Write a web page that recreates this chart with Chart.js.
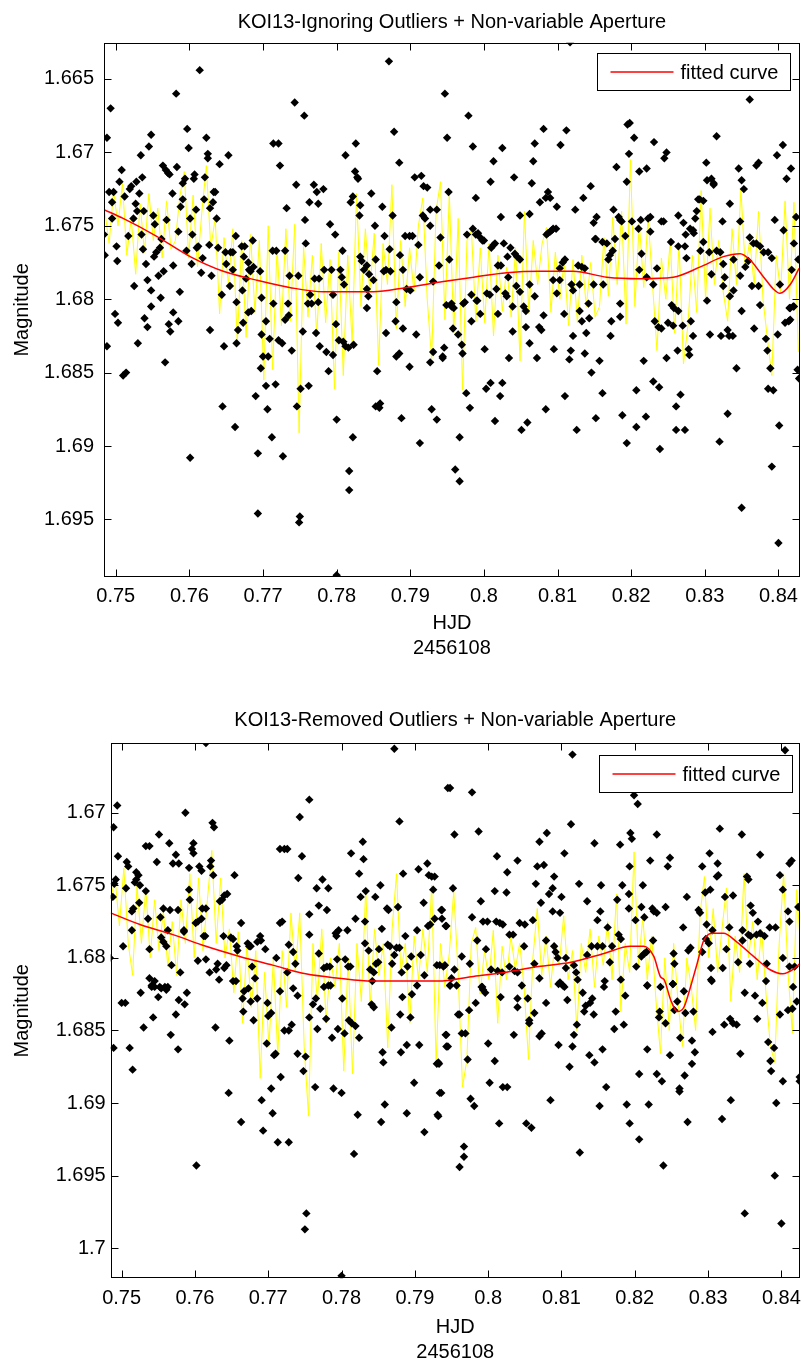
<!DOCTYPE html>
<html>
<head>
<meta charset="utf-8">
<script src="https://cdn.jsdelivr.net/npm/chart.js@4.4.1/dist/chart.umd.min.js"></script>
<style>
  body { margin: 0; background: #fff; width: 804px; height: 1363px; overflow: hidden; position: relative; }
  .panel { position: absolute; left: 0; width: 804px; }
  #topBox { top: 0; height: 670px; }
  #botBox { top: 676px; height: 690px; }
</style>
</head>
<body>
<div class="panel" id="topBox"><canvas id="topChart" width="804" height="670"></canvas></div>
<div class="panel" id="botBox"><canvas id="botChart" width="804" height="690"></canvas></div>
<script>
// axis ticks (HJD - 2456108)
const hjdTicks = [0.75, 0.76, 0.77, 0.78, 0.79, 0.80, 0.81, 0.82, 0.83, 0.84];
const hjdTickLabels = ['0.75', '0.76', '0.77', '0.78', '0.79', '0.8', '0.81', '0.82', '0.83', '0.84'];
const topMagTicks = [1.665, 1.670, 1.675, 1.680, 1.685, 1.690, 1.695];
const topMagTickLabels = ['1.665', '1.67', '1.675', '1.68', '1.685', '1.69', '1.695'];
const botMagTicks = [1.670, 1.675, 1.680, 1.685, 1.690, 1.695, 1.700];
const botMagTickLabels = ['1.67', '1.675', '1.68', '1.685', '1.69', '1.695', '1.7'];

// measured points, top panel (ignoring outliers): [HJD, magnitude]
const topPoints = [
  [0.7484,1.6756],[0.7485,1.6770],[0.7488,1.6690],[0.7493,1.6670],[0.7491,1.6727],[0.7495,1.6734],[0.7497,1.6727],[0.7495,1.6745],[0.7501,1.6764],[0.7502,1.6774],
  [0.7505,1.6720],[0.7508,1.6712],[0.7512,1.6730],[0.7517,1.6757],[0.7519,1.6725],[0.7521,1.6723],[0.7524,1.6745],[0.7525,1.6791],[0.7528,1.6720],[0.7527,1.6735],
  [0.7529,1.6740],[0.7532,1.6728],[0.7534,1.6702],[0.7535,1.6756],[0.7536,1.6717],[0.7538,1.6740],[0.7537,1.6766],[0.7541,1.6776],[0.7543,1.6787],[0.7545,1.6696],
  [0.7548,1.6688],[0.7548,1.6794],[0.7551,1.6743],[0.7552,1.6771],[0.7553,1.6749],[0.7555,1.6768],[0.7558,1.6784],[0.7560,1.6765],[0.7561,1.6799],[0.7562,1.6759],
  [0.7564,1.6709],[0.7565,1.6781],[0.7568,1.6712],[0.7569,1.6746],[0.7571,1.6714],[0.7573,1.6715],[0.7577,1.6728],[0.7578,1.6777],[0.7582,1.6660],[0.7583,1.6710],
  [0.7585,1.6754],[0.7587,1.6795],[0.7588,1.6737],[0.7591,1.6721],[0.7591,1.6732],[0.7594,1.6718],[0.7596,1.6767],[0.7597,1.6684],[0.7599,1.6697],[0.7601,1.6745],
  [0.7603,1.6776],[0.7604,1.6756],[0.7606,1.6718],[0.7607,1.6715],[0.7609,1.6739],[0.7610,1.6765],[0.7612,1.6764],[0.7614,1.6644],[0.7616,1.6782],[0.7618,1.6772],
  [0.7620,1.6732],[0.7621,1.6717],[0.7623,1.6690],[0.7625,1.6701],[0.7625,1.6704],[0.7627,1.6763],[0.7628,1.6738],[0.7630,1.6784],[0.7632,1.6734],[0.7633,1.6727],
  [0.7635,1.6727],[0.7637,1.6745],[0.7639,1.6765],[0.7641,1.6708],[0.7644,1.6797],[0.7649,1.6768],[0.7650,1.6776],[0.7653,1.6702],[0.7655,1.6791],[0.7656,1.6768],
  [0.7659,1.6768],[0.7659,1.6780],[0.7663,1.6757],[0.7664,1.6802],[0.7671,1.6764],[0.7672,1.6794],[0.7674,1.6771],[0.7675,1.6764],[0.7677,1.6786],[0.7680,1.6775],
  [0.7681,1.6780],[0.7683,1.6781],[0.7686,1.6760],[0.7687,1.6778],[0.7696,1.6781],[0.7698,1.6799],[0.7714,1.6694],[0.7721,1.6694],[0.7723,1.6709],[0.7713,1.6767],
  [0.7718,1.6767],[0.7730,1.6767],[0.7732,1.6738],[0.7736,1.6784],[0.7745,1.6722],[0.7743,1.6666],[0.7748,1.6784],[0.7756,1.6675],[0.7757,1.6746],[0.7758,1.6762],
  [0.7763,1.6734],[0.7764,1.6797],[0.7769,1.6722],[0.7770,1.6786],[0.7773,1.6727],[0.7775,1.6735],[0.7776,1.6786],[0.7782,1.6725],[0.7783,1.6780],[0.7791,1.6749],
  [0.7793,1.6780],[0.7795,1.6797],[0.7798,1.6756],[0.7805,1.6780],[0.7807,1.6785],[0.7808,1.6767],[0.7810,1.6790],[0.7812,1.6702],[0.7819,1.6734],[0.7822,1.6730],
  [0.7825,1.6713],[0.7826,1.6694],[0.7828,1.6717],[0.7829,1.6718],[0.7831,1.6743],[0.7832,1.6736],[0.7832,1.6771],[0.7834,1.6774],[0.7837,1.6780],[0.7841,1.6777],
  [0.7841,1.6793],[0.7843,1.6798],[0.7844,1.6783],[0.7847,1.6728],[0.7850,1.6787],[0.7852,1.6750],[0.7853,1.6773],[0.7862,1.6737],[0.7864,1.6781],[0.7865,1.6757],
  [0.7867,1.6780],[0.7871,1.6638],[0.7872,1.6766],[0.7873,1.6781],[0.7876,1.6743],[0.7878,1.6686],[0.7881,1.6802],[0.7885,1.6707],[0.7886,1.6770],[0.7890,1.6780],
  [0.7893,1.6757],[0.7895,1.6793],[0.7899,1.6757],[0.7900,1.6794],[0.7903,1.6757],[0.7906,1.6717],[0.7911,1.6763],[0.7913,1.6785],[0.7915,1.6716],[0.7917,1.6743],
  [0.7918,1.6723],[0.7920,1.6745],[0.7923,1.6724],[0.7927,1.6750],[0.7927,1.6739],[0.7931,1.6788],[0.7936,1.6739],[0.7939,1.6777],[0.7941,1.6758],[0.7947,1.6660],
  [0.7950,1.6690],[0.7952,1.6727],[0.7953,1.6773],
  [0.7979,1.6675],[0.7985,1.6696],[0.7989,1.6731],[0.8013,1.6706],[0.8009,1.6720],[0.8023,1.6744],[0.8025,1.6697],[0.8041,1.6717],[0.8049,1.6743],[0.8062,1.6742],
  [0.8065,1.6721],[0.8067,1.6706],[0.8069,1.6694],[0.8076,1.6734],[0.8081,1.6684],[0.8084,1.6731],[0.8087,1.6727],[0.8090,1.6731],[0.8099,1.6737],[0.8104,1.6695],
  [0.8112,1.6685],[0.8124,1.6739],[0.8135,1.6731],[0.8145,1.6723],[0.8149,1.6748],[0.8153,1.6744],[0.8151,1.6759],[0.8176,1.6739],[0.8180,1.6710],[0.8183,1.6744],
  [0.8185,1.6746],[0.8187,1.6747],[0.8194,1.6720],[0.8195,1.6681],[0.8198,1.6680],[0.8201,1.6747],[0.8204,1.6690],[0.8197,1.6701],[0.8211,1.6713],[0.8213,1.6746],
  [0.8221,1.6711],[0.8223,1.6745],[0.8226,1.6744],[0.8231,1.6693],[0.8241,1.6747],[0.8244,1.6747],[0.8245,1.6704],[0.8248,1.6700],[0.8264,1.6743],[0.8271,1.6748],
  [0.8284,1.6753],[0.8287,1.6745],[0.8289,1.6740],[0.8291,1.6732],[0.8293,1.6732],[0.8298,1.6733],[0.8302,1.6707],[0.8303,1.6719],[0.8309,1.6718],[0.8312,1.6721],
  [0.8312,1.6722],[0.8316,1.6689],[0.8324,1.6747],[0.8334,1.6735],[0.8346,1.6711],[0.8348,1.6747],[0.8350,1.6719],[0.8353,1.6725],[0.8361,1.6664],[0.8370,1.6709],
  [0.8373,1.6707],[0.8395,1.6746],[0.8398,1.6702],[0.8406,1.6695],[0.8411,1.6718],[0.8417,1.6711],[0.8424,1.6744],[0.8117,1.6625],
  [0.7977,1.6756],[0.7985,1.6752],[0.7989,1.6756],[0.7992,1.6755],[0.7995,1.6758],[0.7998,1.6760],[0.8000,1.6760],[0.8010,1.6765],[0.8013,1.6763],[0.8015,1.6762],
  [0.8027,1.6762],[0.8032,1.6771],[0.8036,1.6765],[0.8042,1.6769],[0.8045,1.6771],[0.8049,1.6773],[0.8019,1.6777],[0.8023,1.6777],[0.8033,1.6785],[0.8085,1.6756],
  [0.8087,1.6755],[0.8090,1.6754],[0.8092,1.6753],[0.8094,1.6752],[0.8098,1.6752],[0.8103,1.6779],[0.8107,1.6775],[0.8110,1.6773],[0.8128,1.6777],[0.8133,1.6778],
  [0.8137,1.6779],[0.8152,1.6759],[0.8161,1.6761],[0.8167,1.6762],[0.8169,1.6773],[0.8171,1.6770],[0.8175,1.6767],[0.8178,1.6759],[0.8192,1.6757],[0.8210,1.6752],
  [0.8211,1.6780],[0.8214,1.6769],[0.8226,1.6754],[0.8235,1.6779],[0.8221,1.6785],[0.8254,1.6761],[0.8264,1.6764],[0.8273,1.6764],[0.8275,1.6772],[0.8274,1.6756],
  [0.8280,1.6752],[0.8285,1.6755],[0.8298,1.6761],[0.8294,1.6767],[0.8306,1.6768],[0.8316,1.6767],[0.8321,1.6768],[0.8325,1.6776],[0.8327,1.6785],[0.8339,1.6773],
  [0.8355,1.6778],[0.8359,1.6774],[0.8361,1.6758],[0.8366,1.6762],[0.8370,1.6762],[0.8375,1.6764],[0.8380,1.6768],[0.8386,1.6768],[0.8391,1.6772],[0.8407,1.6753],
  [0.8418,1.6780],[0.8421,1.6762],[0.8427,1.6773],
  [0.7949,1.6804],[0.7956,1.6805],[0.7972,1.6803],[0.7983,1.6797],[0.7990,1.6801],[0.8004,1.6796],[0.8008,1.6797],[0.8017,1.6793],[0.8029,1.6796],[0.8031,1.6798],
  [0.8044,1.6791],[0.8049,1.6795],[0.8062,1.6790],[0.8069,1.6798],[0.8099,1.6796],[0.8094,1.6787],[0.8103,1.6787],[0.8119,1.6790],[0.8121,1.6794],[0.8130,1.6790],
  [0.8142,1.6803],[0.8149,1.6790],[0.8162,1.6790],[0.8185,1.6803],[0.8230,1.6790],[0.8255,1.6804],[0.8303,1.6801],[0.8309,1.6783],[0.8325,1.6791],[0.8334,1.6798],
  [0.8339,1.6794],[0.8348,1.6784],[0.8364,1.6791],[0.8373,1.6791],[0.8375,1.6804],[0.8402,1.6790],[0.8416,1.6806],[0.8420,1.6805],
  [0.7488,1.6832],[0.7499,1.6810],[0.7503,1.6816],[0.7510,1.6852],[0.7514,1.6850],[0.7530,1.6830],[0.7539,1.6813],[0.7543,1.6819],[0.7548,1.6805],[0.7567,1.6843],
  [0.7572,1.6817],[0.7574,1.6822],[0.7578,1.6809],[0.7585,1.6815],[0.7601,1.6908],[0.7628,1.6821],[0.7645,1.6873],[0.7647,1.6832],[0.7662,1.6887],[0.7664,1.6830],
  [0.7666,1.6821],[0.7673,1.6816],[0.7680,1.6809],[0.7684,1.6808],[0.7690,1.6866],[0.7693,1.6905],[0.7693,1.6946],[0.7697,1.6847],[0.7698,1.6824],[0.7700,1.6839],
  [0.7704,1.6859],[0.7704,1.6815],[0.7706,1.6875],[0.7707,1.6839],[0.7709,1.6827],[0.7712,1.6894],[0.7714,1.6803],[0.7717,1.6858],[0.7721,1.6828],[0.7726,1.6830],
  [0.7727,1.6907],[0.7730,1.6814],[0.7734,1.6803],[0.7735,1.6811],[0.7739,1.6835],[0.7746,1.6873],[0.7749,1.6952],[0.7750,1.6948],[0.7751,1.6861],[0.7754,1.6822],
  [0.7761,1.6803],[0.7762,1.6859],[0.7766,1.6803],[0.7772,1.6823],[0.7775,1.6802],[0.7777,1.6832],[0.7786,1.6836],[0.7789,1.6849],[0.7795,1.6838],[0.7799,1.6817],
  [0.7800,1.6882],[0.7803,1.6828],[0.7809,1.6829],[0.7812,1.6832],[0.7816,1.6833],[0.7817,1.6917],[0.7817,1.6930],[0.7822,1.6894],[0.7823,1.6831],[0.7841,1.6806],
  [0.7853,1.6873],[0.7855,1.6849],[0.7858,1.6874],[0.7859,1.6871],[0.7867,1.6823],[0.7880,1.6815],[0.7881,1.6839],[0.7885,1.6837],[0.7888,1.6881],[0.7890,1.6820],
  [0.7899,1.6846],[0.7908,1.6824],[0.7913,1.6898],[0.7927,1.6843],[0.7931,1.6836],[0.7929,1.6875],[0.7936,1.6882],[0.7944,1.6840],[0.7946,1.6833],[0.7800,1.6988],
  [0.7944,1.6839],[0.7956,1.6803],[0.7959,1.6806],[0.7958,1.6820],[0.7965,1.6824],[0.7970,1.6831],[0.7971,1.6837],[0.7974,1.6802],[0.7976,1.6864],
  [0.7981,1.6874],[0.7967,1.6894],[0.7961,1.6916],[0.7967,1.6924],[0.7983,1.6815],[0.7991,1.6801],[0.7995,1.6810],[0.8001,1.6834],[0.8003,1.6861],[0.8009,1.6857],
  [0.8015,1.6883],[0.8019,1.6810],[0.8022,1.6866],[0.8025,1.6857],[0.8034,1.6840],[0.8039,1.6805],[0.8039,1.6822],[0.8051,1.6889],[0.8054,1.6805],[0.8057,1.6808],
  [0.8057,1.6819],[0.8059,1.6884],[0.8062,1.6830],[0.8072,1.6840],[0.8075,1.6819],[0.8078,1.6821],[0.8081,1.6811],[0.8084,1.6875],[0.8095,1.6834],[0.8109,1.6810],
  [0.8110,1.6866],[0.8116,1.6841],[0.8118,1.6835],[0.8121,1.6825],[0.8126,1.6889],[0.8130,1.6808],[0.8133,1.6815],[0.8137,1.6837],[0.8139,1.6823],[0.8143,1.6813],
  [0.8146,1.6850],[0.8152,1.6881],[0.8157,1.6842],[0.8161,1.6864],[0.8172,1.6825],[0.8173,1.6815],[0.8185,1.6812],[0.8188,1.6879],[0.8194,1.6898],[0.8207,1.6862],
  [0.8207,1.6887],[0.8217,1.6842],[0.8220,1.6880],[0.8230,1.6856],[0.8232,1.6815],[0.8237,1.6819],[0.8238,1.6860],[0.8239,1.6902],[0.8241,1.6820],[0.8248,1.6840],
  [0.8250,1.6816],[0.8257,1.6818],[0.8258,1.6806],[0.8261,1.6873],[0.8261,1.6889],[0.8263,1.6835],[0.8264,1.6808],[0.8267,1.6865],[0.8270,1.6818],[0.8273,1.6889],
  [0.8278,1.6834],[0.8279,1.6838],[0.8281,1.6815],[0.8284,1.6825],[0.8307,1.6824],[0.8320,1.6897],[0.8322,1.6825],[0.8331,1.6878],[0.8331,1.6821],[0.8333,1.6825],
  [0.8338,1.6825],[0.8343,1.6847],[0.8350,1.6808],[0.8350,1.6942],[0.8367,1.6820],[0.8383,1.6827],[0.8385,1.6835],[0.8389,1.6847],[0.8386,1.6861],[0.8393,1.6862],
  [0.8391,1.6914],[0.8399,1.6824],[0.8401,1.6886],[0.8400,1.6966],[0.8409,1.6816],[0.8414,1.6815],[0.8416,1.6814],[0.8415,1.6806],[0.8421,1.6805],[0.8426,1.6848],
  [0.8428,1.6854]
];

// measured points, bottom panel (removed outliers): [HJD, magnitude]
const botPoints = [
  [0.7615,1.6652],[0.7872,1.6656],[0.7945,1.6683],[0.7494,1.6695],[0.7489,1.6710],[0.7587,1.6700],[0.7756,1.6691],[0.7743,1.6703],[0.7879,1.6706],[0.7624,1.6707],
  [0.7626,1.6710],[0.7551,1.6715],[0.7829,1.6720],[0.7538,1.6723],[0.7533,1.6723],[0.7565,1.6721],[0.7716,1.6725],[0.7722,1.6725],[0.7726,1.6725],[0.7598,1.6721],
  [0.7596,1.6725],[0.7598,1.6728],[0.7495,1.6730],[0.7548,1.6734],[0.7574,1.6729],[0.7570,1.6735],[0.7578,1.6735],[0.7592,1.6738],[0.7606,1.6737],[0.7609,1.6740],
  [0.7622,1.6733],[0.7621,1.6737],[0.7625,1.6743],[0.7654,1.6743],[0.7507,1.6734],[0.7509,1.6737],[0.7520,1.6741],[0.7523,1.6743],[0.7506,1.6752],[0.7518,1.6748],
  [0.7520,1.6746],[0.7525,1.6750],[0.7533,1.6754],[0.7492,1.6746],[0.7490,1.6749],[0.7488,1.6758],[0.7741,1.6745],[0.7746,1.6730],[0.7766,1.6752],[0.7774,1.6746],
  [0.7782,1.6752],[0.7813,1.6728],[0.7824,1.6742],[0.7830,1.6732],[0.7833,1.6754],[0.7826,1.6758],[0.7846,1.6758],[0.7853,1.6750],[0.7884,1.6742],[0.7905,1.6739],
  [0.7917,1.6735],[0.7919,1.6743],[0.7923,1.6744],[0.7927,1.6744],[0.7925,1.6753],[0.7644,1.6756],[0.7640,1.6757],[0.7637,1.6760],[0.7634,1.6761],[0.7592,1.6753],
  [0.7593,1.6760],[0.7524,1.6762],[0.7516,1.6766],[0.7514,1.6768],[0.7585,1.6781],[0.7557,1.6766],[0.7566,1.6767],[0.7577,1.6767],[0.7536,1.6773],[0.7553,1.6772],
  [0.7609,1.6773],[0.7604,1.6775],[0.7601,1.6776],[0.7610,1.6766],[0.7615,1.6766],[0.7756,1.6770],[0.7769,1.6764],[0.7780,1.6767],[0.7719,1.6775],[0.7819,1.6773],
  [0.7832,1.6775],[0.7862,1.6766],[0.7864,1.6767],[0.7877,1.6765],[0.7912,1.6762],[0.7918,1.6778],[0.7927,1.6773],[0.7937,1.6767],[0.7943,1.6778],
  [0.7484,1.6800],[0.7502,1.6792],[0.7514,1.6781],[0.7538,1.6794],[0.7554,1.6786],[0.7557,1.6789],[0.7561,1.6792],[0.7563,1.6781],[0.7568,1.6805],[0.7580,1.6810],
  [0.7585,1.6782],[0.7604,1.6802],[0.7612,1.6785],[0.7614,1.6785],[0.7615,1.6801],[0.7631,1.6804],[0.7620,1.6810],[0.7629,1.6808],[0.7639,1.6785],[0.7640,1.6807],
  [0.7643,1.6805],[0.7649,1.6786],[0.7652,1.6787],[0.7657,1.6792],[0.7658,1.6795],[0.7656,1.6816],[0.7663,1.6776],[0.7672,1.6790],[0.7674,1.6792],[0.7678,1.6806],
  [0.7682,1.6814],[0.7676,1.6792],[0.7685,1.6789],[0.7689,1.6785],[0.7690,1.6788],[0.7696,1.6794],[0.7711,1.6800],[0.7716,1.6776],[0.7726,1.6810],[0.7728,1.6791],
  [0.7734,1.6796],[0.7737,1.6804],[0.7756,1.6784],[0.7769,1.6797],[0.7776,1.6807],[0.7780,1.6806],[0.7784,1.6806],[0.7793,1.6785],[0.7792,1.6783],[0.7796,1.6781],
  [0.7794,1.6801],[0.7808,1.6781],[0.7805,1.6801],[0.7809,1.6806],[0.7812,1.6806],[0.7832,1.6790],[0.7837,1.6795],[0.7839,1.6808],[0.7842,1.6816],[0.7844,1.6810],
  [0.7847,1.6804],[0.7850,1.6803],[0.7851,1.6794],[0.7855,1.6780],[0.7863,1.6791],[0.7866,1.6792],[0.7869,1.6804],[0.7872,1.6798],[0.7875,1.6793],[0.7879,1.6793],
  [0.7882,1.6810],[0.7887,1.6785],[0.7890,1.6806],[0.7895,1.6799],[0.7903,1.6781],[0.7908,1.6798],[0.7913,1.6812],[0.7921,1.6777],[0.7930,1.6805],[0.7934,1.6805],
  [0.7941,1.6805],[0.7538,1.6814],[0.7541,1.6819],[0.7545,1.6820],[0.7552,1.6820],[0.7559,1.6820],[0.7563,1.6820],
  [0.7500,1.6831],[0.7505,1.6831],[0.7526,1.6824],[0.7541,1.6820],[0.7545,1.6816],[0.7550,1.6827],[0.7554,1.6821],[0.7561,1.6822],[0.7578,1.6829],[0.7586,1.6832],
  [0.7589,1.6824],[0.7543,1.6841],[0.7530,1.6848],[0.7489,1.6862],[0.7511,1.6862],[0.7515,1.6877],[0.7567,1.6853],[0.7574,1.6839],[0.7577,1.6863],[0.7602,1.6943],
  [0.7628,1.6848],[0.7633,1.6815],[0.7647,1.6857],[0.7646,1.6893],[0.7652,1.6816],[0.7663,1.6913],[0.7665,1.6828],[0.7666,1.6837],[0.7667,1.6823],[0.7673,1.6821],
  [0.7676,1.6830],[0.7680,1.6843],[0.7685,1.6828],[0.7691,1.6898],[0.7693,1.6919],[0.7698,1.6859],[0.7699,1.6831],[0.7700,1.6840],[0.7704,1.6838],[0.7704,1.6890],
  [0.7706,1.6907],[0.7708,1.6867],[0.7710,1.6866],[0.7713,1.6927],[0.7716,1.6823],[0.7717,1.6882],[0.7722,1.6850],[0.7728,1.6850],[0.7728,1.6927],[0.7732,1.6846],
  [0.7734,1.6821],[0.7740,1.6826],[0.7740,1.6866],[0.7748,1.6878],[0.7750,1.6987],[0.7751,1.6868],[0.7752,1.6976],[0.7756,1.6841],[0.7761,1.6832],[0.7764,1.6889],
  [0.7765,1.6828],[0.7767,1.6849],[0.7771,1.6835],[0.7776,1.6820],[0.7779,1.6842],[0.7782,1.6819],[0.7785,1.6819],[0.7787,1.6855],[0.7789,1.6890],[0.7795,1.6849],
  [0.7800,1.6893],[0.7801,1.6828],[0.7804,1.6852],[0.7810,1.6843],[0.7814,1.6845],[0.7817,1.6935],[0.7819,1.6847],[0.7822,1.6908],[0.7824,1.6855],[0.7841,1.6832],
  [0.7844,1.6834],[0.7854,1.6913],[0.7856,1.6865],[0.7857,1.6872],[0.7859,1.6901],[0.7868,1.6848],[0.7880,1.6839],[0.7881,1.6865],[0.7883,1.6827],[0.7889,1.6860],
  [0.7889,1.6907],[0.7894,1.6841],[0.7896,1.6825],[0.7899,1.6886],[0.7903,1.6819],[0.7906,1.6860],[0.7913,1.6920],[0.7930,1.6873],[0.7933,1.6873],[0.7931,1.6908],
  [0.7934,1.6893],[0.7942,1.6853],[0.7943,1.6861],[0.7800,1.7019],
  [0.7948,1.6683],[0.7978,1.6686],[0.8115,1.6660],[0.8199,1.6688],[0.8204,1.6694],[0.8405,1.6657],[0.7954,1.6715],[0.7987,1.6713],[0.8113,1.6708],[0.8070,1.6720],
  [0.8080,1.6714],[0.8104,1.6728],[0.8145,1.6721],[0.8180,1.6722],[0.8194,1.6714],[0.8196,1.6718],[0.8230,1.6715],[0.8316,1.6711],[0.8346,1.6715],[0.8012,1.6730],
  [0.8040,1.6733],[0.8026,1.6741],[0.8067,1.6737],[0.8076,1.6736],[0.8090,1.6744],[0.8065,1.6749],[0.8083,1.6756],[0.8088,1.6752],[0.8100,1.6758],[0.8124,1.6749],
  [0.8154,1.6750],[0.8183,1.6750],[0.8192,1.6756],[0.8193,1.6737],[0.8211,1.6750],[0.8221,1.6733],[0.8248,1.6731],[0.8245,1.6737],[0.8302,1.6728],[0.8313,1.6735],
  [0.8314,1.6743],[0.8292,1.6737],[0.8303,1.6753],[0.8312,1.6744],[0.8353,1.6744],[0.8355,1.6746],[0.8371,1.6729],[0.8398,1.6743],[0.8411,1.6735],[0.8414,1.6733],
  [0.8402,1.6753],[0.7952,1.6752],[0.7990,1.6761],[0.8009,1.6754],[0.8025,1.6755],[0.7936,1.6767],[0.7937,1.6773],[0.7942,1.6778],[0.7978,1.6772],[0.7993,1.6775],
  [0.7999,1.6775],[0.8011,1.6775],[0.8016,1.6776],[0.8020,1.6777],[0.8029,1.6784],[0.8034,1.6784],[0.8043,1.6776],[0.8050,1.6777],[0.8061,1.6774],[0.8072,1.6762],
  [0.8088,1.6768],[0.8098,1.6769],[0.8135,1.6761],[0.8153,1.6768],[0.8149,1.6774],[0.8163,1.6779],[0.8176,1.6760],[0.8192,1.6766],[0.8201,1.6774],[0.8209,1.6765],
  [0.8213,1.6772],[0.8224,1.6766],[0.8226,1.6768],[0.8230,1.6769],[0.8242,1.6765],[0.8266,1.6779],[0.8271,1.6758],[0.8287,1.6767],[0.8289,1.6769],[0.8296,1.6755],
  [0.8298,1.6777],[0.8306,1.6781],[0.8323,1.6758],[0.8329,1.6779],[0.8334,1.6757],[0.8347,1.6781],[0.8358,1.6764],[0.8361,1.6769],[0.8368,1.6775],[0.8358,1.6785],
  [0.8355,1.6784],[0.8366,1.6784],[0.8371,1.6783],[0.8377,1.6785],[0.8384,1.6779],[0.8392,1.6779],[0.8409,1.6768],[0.8411,1.6775],[0.8423,1.6765],
  [0.7985,1.6788],[0.7997,1.6794],[0.7964,1.6799],[0.7975,1.6804],[0.7939,1.6806],[0.7950,1.6814],[0.7954,1.6808],[0.7948,1.6819],[0.7992,1.6820],[0.8004,1.6808],
  [0.8013,1.6809],[0.8019,1.6810],[0.8029,1.6806],[0.8036,1.6809],[0.8040,1.6810],[0.8049,1.6792],[0.8063,1.6804],[0.8070,1.6814],[0.8079,1.6788],[0.8090,1.6792],
  [0.8092,1.6796],[0.8095,1.6800],[0.8096,1.6818],[0.8102,1.6819],[0.8106,1.6800],[0.8106,1.6807],[0.8117,1.6805],[0.8120,1.6810],[0.8122,1.6815],[0.8135,1.6798],
  [0.8141,1.6792],[0.8149,1.6792],[0.8156,1.6792],[0.8159,1.6816],[0.8166,1.6803],[0.8169,1.6792],[0.8178,1.6784],[0.8181,1.6787],[0.8181,1.6815],[0.8202,1.6806],
  [0.8209,1.6799],[0.8213,1.6797],[0.8216,1.6796],[0.8217,1.6819],[0.8225,1.6788],[0.8253,1.6797],[0.8254,1.6804],[0.8252,1.6818],[0.8273,1.6795],[0.8276,1.6793],
  [0.8292,1.6796],[0.8297,1.6787],[0.8301,1.6790],[0.8304,1.6807],[0.8304,1.6815],[0.8320,1.6807],[0.8325,1.6794],[0.8341,1.6803],[0.8347,1.6788],[0.8357,1.6804],
  [0.8380,1.6804],[0.8402,1.6800],[0.8411,1.6806],[0.8418,1.6806],
  [0.7932,1.6872],[0.7936,1.6893],[0.7932,1.6909],[0.7948,1.6819],[0.7957,1.6819],[0.7943,1.6853],[0.7945,1.6861],[0.7959,1.6839],[0.7961,1.6839],[0.7964,1.6852],
  [0.7969,1.6852],[0.7972,1.6870],[0.7974,1.6836],[0.7976,1.6897],[0.7981,1.6902],[0.7983,1.6831],[0.7991,1.6820],[0.7993,1.6822],[0.7996,1.6824],[0.8000,1.6859],
  [0.8002,1.6886],[0.8009,1.6871],[0.8015,1.6914],[0.8017,1.6827],[0.8020,1.6889],[0.8026,1.6889],[0.8035,1.6853],[0.8040,1.6828],[0.8040,1.6834],[0.8046,1.6819],
  [0.8052,1.6914],[0.8054,1.6828],[0.8056,1.6843],[0.8056,1.6845],[0.8059,1.6917],[0.8063,1.6838],[0.8070,1.6854],[0.8073,1.6852],[0.8079,1.6831],[0.8085,1.6898],
  [0.8096,1.6860],[0.8098,1.6817],[0.8104,1.6820],[0.8108,1.6829],[0.8111,1.6875],[0.8115,1.6861],[0.8117,1.6853],[0.8121,1.6846],[0.8125,1.6934],[0.8129,1.6824],
  [0.8131,1.6837],[0.8133,1.6833],[0.8138,1.6867],[0.8139,1.6831],[0.8142,1.6828],[0.8144,1.6839],[0.8145,1.6872],[0.8152,1.6902],[0.8156,1.6863],[0.8158,1.6820],
  [0.8161,1.6889],[0.8172,1.6849],[0.8174,1.6837],[0.8185,1.6846],[0.8187,1.6826],[0.8189,1.6901],[0.8193,1.6914],[0.8206,1.6880],[0.8206,1.6925],[0.8217,1.6819],
  [0.8217,1.6863],[0.8219,1.6901],[0.8230,1.6880],[0.8233,1.6841],[0.8234,1.6837],[0.8235,1.6820],[0.8237,1.6885],[0.8239,1.6943],[0.8242,1.6845],[0.8248,1.6867],
  [0.8252,1.6818],[0.8254,1.6836],[0.8258,1.6830],[0.8261,1.6890],[0.8261,1.6892],[0.8262,1.6855],[0.8267,1.6823],[0.8268,1.6881],[0.8269,1.6838],[0.8272,1.6913],
  [0.8278,1.6857],[0.8278,1.6873],[0.8280,1.6837],[0.8282,1.6865],[0.8305,1.6816],[0.8306,1.6851],[0.8319,1.6911],[0.8322,1.6846],[0.8330,1.6842],[0.8331,1.6898],
  [0.8334,1.6845],[0.8339,1.6846],[0.8344,1.6866],[0.8350,1.6824],[0.8350,1.6976],[0.8364,1.6826],[0.8367,1.6842],[0.8374,1.6831],[0.8379,1.6816],[0.8382,1.6858],
  [0.8385,1.6871],[0.8386,1.6878],[0.8390,1.6862],[0.8391,1.6950],[0.8393,1.6900],[0.8398,1.6839],[0.8400,1.6983],[0.8402,1.6885],[0.8409,1.6836],[0.8415,1.6835],
  [0.8416,1.6820],[0.8421,1.6830],[0.8425,1.6882],[0.8425,1.6885],[0.7967,1.6930],[0.7967,1.6937],[0.7961,1.6944]
];

// yellow comparison trace, same sampling in both panels
const yellowHJD = [
  0.7485,0.7491,0.7497,0.7503,0.7509,0.7515,0.7521,0.7527,0.7533,0.7539,0.7545,0.7551,0.7557,0.7563,0.7569,0.7575,
  0.7581,0.7587,0.7593,0.7599,0.7605,0.7611,0.7617,0.7623,0.7629,0.7635,0.7641,0.7647,0.7653,0.7659,0.7665,0.7671,
  0.7677,0.7683,0.7689,0.7695,0.7701,0.7707,0.7713,0.7719,0.7725,0.7731,0.7737,0.7743,0.7749,0.7755,0.7761,0.7767,
  0.7773,0.7779,0.7785,0.7791,0.7797,0.7803,0.7809,0.7815,0.7821,0.7827,0.7833,0.7839,0.7845,0.7851,0.7857,0.7863,
  0.7869,0.7875,0.7881,0.7887,0.7893,0.7899,0.7905,0.7911,0.7917,0.7923,0.7929,0.7935,0.7941,0.7947,0.7953,0.7959,
  0.7965,0.7971,0.7977,0.7983,0.7989,0.7995,0.8001,0.8007,0.8013,0.8019,0.8025,0.8031,0.8037,0.8043,0.8049,0.8055,
  0.8061,0.8067,0.8073,0.8079,0.8085,0.8091,0.8097,0.8103,0.8109,0.8115,0.8121,0.8127,0.8133,0.8139,0.8145,0.8151,
  0.8157,0.8163,0.8169,0.8175,0.8181,0.8187,0.8193,0.8199,0.8205,0.8211,0.8217,0.8223,0.8229,0.8235,0.8241,0.8247,
  0.8253,0.8259,0.8265,0.8271,0.8277,0.8283,0.8289,0.8295,0.8301,0.8307,0.8313,0.8319,0.8325,0.8331,0.8337,0.8343,
  0.8349,0.8355,0.8361,0.8367,0.8373,0.8379,0.8385,0.8391,0.8397,0.8403,0.8409,0.8415,0.8421,0.8427
];
const topYellowMag = [
  1.6740,1.6762,1.6726,1.6750,1.6721,1.6770,1.6745,1.6783,1.6735,1.6768,1.6728,1.6760,1.6738,1.6772,1.6733,1.6766,
  1.6760,1.6730,1.6713,1.6772,1.6729,1.6778,1.6740,1.6709,1.6765,1.6745,
  1.6810,1.6758,1.6790,1.6752,1.6830,1.6760,1.6826,1.6756,1.6809,1.6760,1.6855,1.6750,1.6848,1.6765,1.6818,1.6752,1.6815,1.6749,1.6891,1.6764,
  1.6812,1.6770,1.6825,1.6762,1.6816,1.6773,1.6861,1.6768,1.6852,1.6770,1.6830,1.6728,1.6805,1.6752,1.6795,1.6755,1.6845,1.6762,1.6790,1.6722,
  1.6820,1.6760,1.6805,1.6765,1.6795,1.6750,1.6731,1.6800,1.6841,1.6740,1.6720,1.6814,1.6728,
  1.6823,1.6745,1.6862,1.6760,1.6753,1.6815,1.6765,1.6816,1.6762,1.6825,1.6770,1.6808,1.6778,1.6812,1.6765,1.6842,1.6740,1.6810,1.6760,
  1.6790,1.6762,1.6751,1.6809,1.6768,1.6800,1.6775,1.6818,1.6773,1.6816,1.6770,1.6805,1.6775,1.6812,1.6805,1.6758,1.6798,1.6744,1.6790,1.6740,
  1.6817,1.6705,1.6805,1.6748,1.6792,1.6744,1.6790,1.6835,1.6772,1.6800,1.6760,1.6823,1.6762,1.6844,1.6818,1.6770,1.6809,1.6726,1.6800,1.6738,
  1.6790,1.6760,1.6795,1.6815,1.6752,1.6790,1.6725,1.6780,1.6760,1.6790,1.6740,1.6800,1.6827,1.6852,1.6770,1.6795,1.6733,1.6800,1.6734,1.6836
];
const botYellowMag = [
  1.6760,1.6745,1.6778,1.6738,1.6790,1.6812,1.6750,1.6790,1.6752,1.6800,1.6760,1.6795,1.6768,1.6806,1.6775,1.6812,1.6760,1.6790,1.6742,1.6800,
  1.6745,1.6795,1.6760,1.6726,1.6790,1.6745,1.6800,1.6780,1.6824,1.6782,1.6845,1.6790,1.6834,1.6795,1.6883,1.6810,1.6861,1.6800,1.6867,1.6795,
  1.6834,1.6769,1.6810,1.6769,1.6861,1.6909,1.6790,1.6830,1.6780,1.6845,1.6800,1.6820,1.6790,1.6878,1.6800,1.6880,1.6790,1.6830,1.6752,1.6834,
  1.6780,1.6812,1.6790,1.6862,1.6780,1.6742,1.6810,1.6790,1.6845,1.6785,1.6815,1.6780,1.6810,1.6750,1.6873,1.6790,1.6820,1.6797,
  1.6754,1.6810,1.6889,1.6870,1.6790,1.6779,1.6825,1.6795,1.6815,1.6781,1.6845,1.6792,1.6815,1.6785,1.6808,1.6790,1.6820,1.6870,1.6800,1.6766,
  1.6812,1.6785,1.6820,1.6790,1.6805,1.6771,1.6815,1.6795,1.6850,1.6790,1.6810,1.6780,1.6820,1.6785,1.6805,1.6775,1.6815,1.6756,1.6837,1.6790,
  1.6810,1.6727,1.6805,1.6772,1.6815,1.6785,1.6830,1.6866,1.6800,1.6850,1.6790,1.6830,1.6861,1.6800,1.6820,1.6850,1.6770,1.6744,1.6800,1.6766,
  1.6810,1.6780,1.6752,1.6830,1.6785,1.6810,1.6742,1.6800,1.6775,1.6815,1.6780,1.6825,1.6861,1.6872,1.6790,1.6742,1.6810,1.6852,1.6753,1.6800
];

// fitted curves
const topFitHJD = [0.7484,0.7510,0.7555,0.7601,0.7646,0.7691,0.7736,0.7782,0.7850,0.7895,0.7945,0.7986,0.8031,0.8076,
  0.8121,0.8167,0.8212,0.8257,0.8294,0.8325,0.8348,0.8361,0.8380,0.8393,0.8402,0.8416,0.8428];
const topFitMag = [1.6739,1.6745,1.6757,1.6771,1.6781,1.6787,1.6792,1.6795,1.6795,1.6792,1.6788,1.6785,1.6782,1.6781,
  1.6781,1.6785,1.6786,1.6785,1.6778,1.6771,1.6769,1.6773,1.6785,1.6793,1.6796,1.6790,1.6779];
const botFitHJD = [0.7485,0.7525,0.7570,0.7615,0.7661,0.7706,0.7751,0.7796,0.7842,0.7887,0.7932,0.7977,0.8022,0.8068,
  0.8113,0.8158,0.8194,0.8212,0.8226,0.8235,0.8240,0.8249,0.8258,0.8267,0.8276,0.8285,0.8294,0.8307,0.8321,0.8339,
  0.8362,0.8384,0.8402,0.8416,0.8425];
const botFitMag = [1.6769,1.6777,1.6784,1.6792,1.6799,1.6805,1.6811,1.6814,1.6816,1.6816,1.6816,1.6813,1.6810,1.6806,
  1.6803,1.6797,1.6792,1.6792,1.6799,1.6813,1.6815,1.6829,1.6837,1.6834,1.6820,1.6804,1.6788,1.6783,1.6783,1.6789,
  1.6799,1.6808,1.6811,1.6808,1.6804];

Chart.defaults.font.family = "'Liberation Sans', Arial, Helvetica, sans-serif";
Chart.defaults.font.size = 20;
Chart.defaults.color = '#000';

// MATLAB-like box: inward ticks on all four sides plus the legend box
const matlabFrame = {
  id: 'matlabFrame',
  afterDatasetsDraw(chart, args, opts) {
    const { ctx, chartArea: a } = chart;
    const xs = chart.scales.x, ys = chart.scales.y;
    const len = 7;
    const L = Math.round(a.left) + 0.5, R = Math.round(a.right) - 0.5;
    const T = Math.round(a.top) + 0.5, B = Math.round(a.bottom) - 0.5;
    ctx.save();
    ctx.strokeStyle = '#000';
    ctx.lineWidth = 1;
    ctx.beginPath();
    xs.ticks.forEach(t => {
      const px = Math.round(xs.getPixelForValue(t.value)) + 0.5;
      ctx.moveTo(px, B); ctx.lineTo(px, B - len);
      ctx.moveTo(px, T); ctx.lineTo(px, T + len);
    });
    ys.ticks.forEach(t => {
      const py = Math.round(ys.getPixelForValue(t.value)) + 0.5;
      ctx.moveTo(L, py); ctx.lineTo(L + len, py);
      ctx.moveTo(R, py); ctx.lineTo(R - len, py);
    });
    ctx.stroke();
    ctx.strokeRect(L, T, R - L, B - T);

    // legend
    const fit = chart.data.datasets.find(d => d.label);
    const w = 193, h = 37;
    const bx = Math.round(a.right - opts.right - w) + 0.5;
    const by = Math.round(a.top + opts.top) + 0.5;
    ctx.fillStyle = '#fff';
    ctx.fillRect(bx, by, w, h);
    ctx.strokeRect(bx, by, w, h);
    ctx.strokeStyle = fit.borderColor;
    ctx.lineWidth = fit.borderWidth;
    ctx.beginPath();
    ctx.moveTo(bx + 13, by + h / 2);
    ctx.lineTo(bx + 76, by + h / 2);
    ctx.stroke();
    ctx.fillStyle = '#000';
    ctx.font = "20px 'Liberation Sans', Arial, sans-serif";
    ctx.textBaseline = 'middle';
    ctx.textAlign = 'left';
    ctx.fillText(fit.label, bx + 83, by + h / 2 + 1);
    ctx.restore();
  }
};

function makePanel(canvasId, p) {
  const pts = p.points.map(d => ({ x: d[0], y: d[1] }));
  const yellow = yellowHJD.map((x, i) => ({ x: x, y: p.yellow[i] }));
  const fit = p.fitX.map((x, i) => ({ x: x, y: p.fitY[i] }));

  return new Chart(document.getElementById(canvasId), {
    type: 'scatter',
    data: {
      datasets: [
        {
          data: yellow, showLine: true, borderColor: '#ffff00', borderWidth: 1,
          pointRadius: 0, tension: 0, clip: 0, order: 3
        },
        {
          data: pts, pointStyle: 'rectRot', pointRadius: 4.2,
          backgroundColor: '#000', borderColor: '#000', pointBorderWidth: 0,
          clip: 0, order: 2
        },
        {
          label: 'fitted curve', data: fit, showLine: true, borderColor: '#ff0000', borderWidth: 1.5,
          pointRadius: 0, cubicInterpolationMode: 'monotone', clip: 0, order: 1
        }
      ]
    },
    options: {
      responsive: false,
      animation: false,
      events: [],
      layout: { padding: { left: 0, right: p.padRight, top: 0, bottom: 0 } },
      plugins: {
        legend: { display: false },
        tooltip: { enabled: false },
        title: {
          display: true, text: p.title, fullSize: false, color: '#000',
          font: { size: 20, weight: 'normal', lineHeight: 1.2 },
          padding: { top: p.titleTop, bottom: p.titleBottom }
        },
        matlabFrame: { right: p.legendRight, top: p.legendTop }
      },
      scales: {
        x: {
          type: 'linear', min: p.xMin, max: p.xMax,
          grid: { display: false, drawTicks: false },
          border: { display: false },
          afterBuildTicks: s => { s.ticks = hjdTicks.map(v => ({ value: v })); },
          ticks: {
            padding: p.xTickPad, autoSkip: false, maxRotation: 0, color: '#000',
            font: { size: 20 },
            callback: (v, i) => hjdTickLabels[i]
          },
          title: {
            display: true, text: ['HJD', '2456108'], color: '#000',
            font: { size: 20, lineHeight: 1.25 },
            padding: { top: 0, bottom: p.xTitleBottom }
          },
          afterFit: s => { s.height = p.xHeight; s.paddingLeft = 0; s.paddingRight = 0; }
        },
        y: {
          type: 'linear', reverse: true, min: p.yMin, max: p.yMax,
          grid: { display: false, drawTicks: false },
          border: { display: false },
          afterBuildTicks: s => { s.ticks = p.yTicks.map(v => ({ value: v })); },
          ticks: {
            padding: p.yTickPad, autoSkip: false, color: '#000',
            font: { size: 20 },
            callback: (v, i) => p.yLabels[i]
          },
          title: {
            display: true, text: 'Magnitude', color: '#000',
            font: { size: 20, lineHeight: 1.2 },
            padding: { top: 10, bottom: 0 }
          },
          afterFit: s => { s.width = p.yWidth; s.paddingTop = 0; s.paddingBottom = 0; }
        }
      }
    },
    plugins: [matlabFrame]
  });
}

makePanel('topChart', {
  title: 'KOI13-Ignoring Outliers + Non-variable Aperture',
  points: topPoints, yellow: topYellowMag, fitX: topFitHJD, fitY: topFitMag,
  xMin: 0.7484, xMax: 0.8429, yMin: 1.66253, yMax: 1.69892,
  yTicks: topMagTicks, yLabels: topMagTickLabels,
  padRight: 4, yWidth: 104, xHeight: 93,
  titleTop: 10.8, titleBottom: 7.9,
  xTickPad: 7, yTickPad: 10, xTitleBottom: 8.7,
  legendRight: 10, legendTop: 10.6
});

makePanel('botChart', {
  title: 'KOI13-Removed Outliers + Non-variable Aperture',
  points: botPoints, yellow: botYellowMag, fitX: botFitHJD, fitY: botFitMag,
  xMin: 0.74851, xMax: 0.84251, yMin: 1.66522, yMax: 1.70207,
  yTicks: botMagTicks, yLabels: botMagTickLabels,
  padRight: 0.5, yWidth: 110.7, xHeight: 87.7,
  titleTop: 32.5, titleBottom: 10.8,
  xTickPad: 8, yTickPad: 5, xTitleBottom: 0.7,
  legendRight: 7.5, legendTop: 11.7
});
</script>
</body>
</html>
